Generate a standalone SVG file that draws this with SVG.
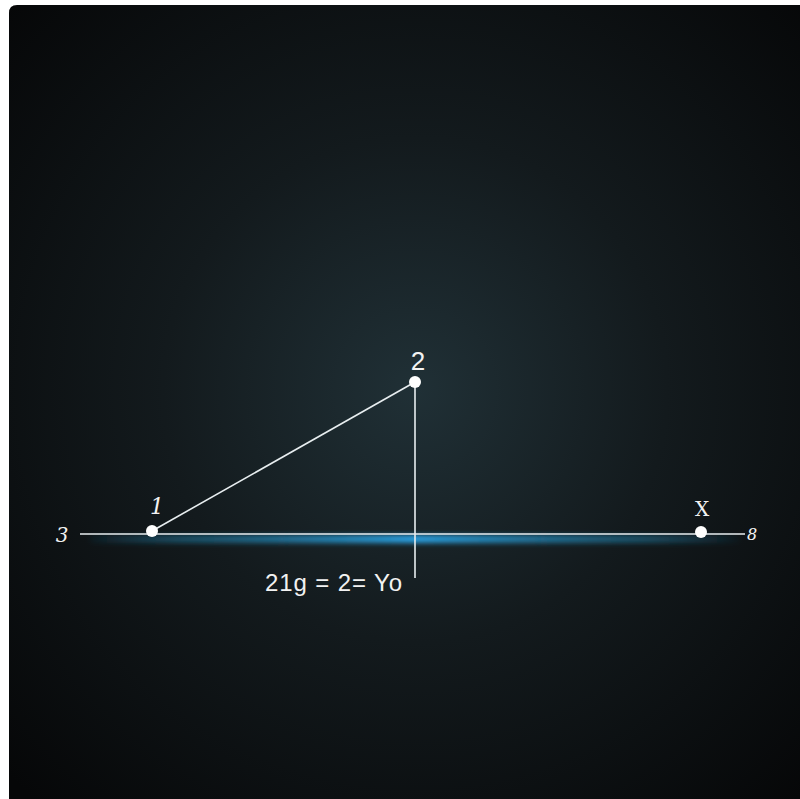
<svg xmlns="http://www.w3.org/2000/svg" width="800" height="799" viewBox="0 0 800 799">
<defs>
<radialGradient id="bg" cx="415" cy="390" r="560" gradientUnits="userSpaceOnUse">
<stop offset="0" stop-color="#203036"/>
<stop offset="0.45" stop-color="#131a1d"/>
<stop offset="1" stop-color="#060708"/>
</radialGradient>
<linearGradient id="glow" x1="80" y1="0" x2="745" y2="0" gradientUnits="userSpaceOnUse">
<stop offset="0" stop-color="#1a7aa8" stop-opacity="0"/>
<stop offset="0.15" stop-color="#1f6f90" stop-opacity="0.6"/>
<stop offset="0.5" stop-color="#2aa0e0" stop-opacity="1"/>
<stop offset="0.85" stop-color="#1f6f90" stop-opacity="0.6"/>
<stop offset="1" stop-color="#1a7aa8" stop-opacity="0"/>
</linearGradient>
<filter id="blur" x="-10%" y="-200%" width="120%" height="500%"><feGaussianBlur stdDeviation="2.5"/></filter>
</defs>
<style>
.ln{stroke:#e8eef0;stroke-width:1.6;fill:none}
.pt{fill:#ffffff}
.lbl{fill:#f2f2f2;font-family:"DejaVu Serif","Liberation Serif",serif}
.sans{font-family:"Liberation Sans",Arial,sans-serif}
</style>
<rect x="0" y="0" width="800" height="799" fill="#ffffff"/>
<path d="M9,13 Q9,5 17,5 L800,5 L800,799 L9,799 Z" fill="url(#bg)"/>
<g id="glow-line">
<rect x="90" y="535" width="650" height="8" fill="url(#glow)" filter="url(#blur)"/>
</g>
<g id="connectors">
<line class="ln" x1="80" y1="534" x2="745" y2="534" stroke-width="2"/>
<line class="ln" x1="152" y1="531" x2="415" y2="382"/>
<line class="ln" x1="415" y1="382" x2="415" y2="578"/>
</g>
<g id="node-1"><circle class="pt" cx="152" cy="531" r="6"/><text class="lbl" x="157" y="514" font-size="22" font-style="italic" text-anchor="middle">1</text></g>
<g id="node-2"><circle class="pt" cx="415" cy="382" r="6"/><text class="lbl sans" x="418" y="370" font-size="26" text-anchor="middle">2</text></g>
<g id="node-x"><circle class="pt" cx="701" cy="532" r="6"/><text class="lbl" x="702" y="516" font-size="20" text-anchor="middle">X</text></g>
<g id="label-3"><text class="lbl" x="62" y="542" font-size="20" font-style="italic" text-anchor="middle">3</text></g>
<g id="label-8"><text class="lbl" x="752" y="540" font-size="16" font-style="italic" text-anchor="middle">8</text></g>
<g id="formula"><text class="lbl sans" x="265" y="591" font-size="24" textLength="137" lengthAdjust="spacing">21g = 2= Yo</text></g>
</svg>
